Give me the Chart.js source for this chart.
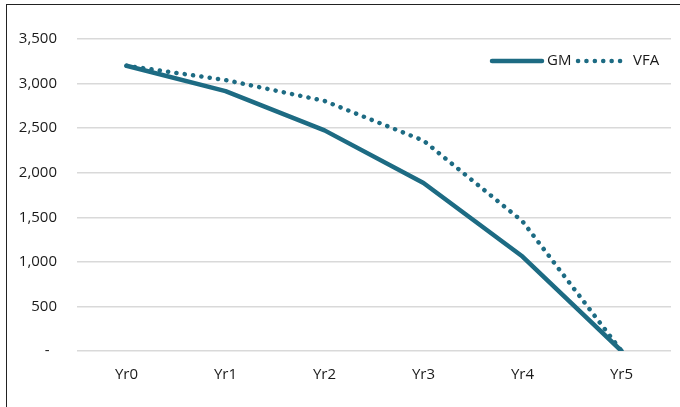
<!DOCTYPE html>
<html lang="en">
<head>
    <meta charset="UTF-8">
    <title>GM vs VFA</title>
    <script src="https://cdn.jsdelivr.net/npm/chart.js@4/dist/chart.umd.min.js"></script>
    <style>
        html, body { margin: 0; padding: 0; background: #fff; overflow: hidden; }
        #wrap { position: relative; width: 680px; height: 407px; }
        #frame { position: absolute; left: 6px; top: 4px; width: 700px; height: 430px;
                 border: 1.5px solid #222; pointer-events: none; }
    </style>
</head>
<body>
<div id="wrap">
    <canvas id="myChart" width="680" height="407"></canvas>
    <div id="frame"></div>
</div>
<script>
    // data
    const years = ["Yr0", "Yr1", "Yr2", "Yr3", "Yr4", "Yr5"];
    const gmValues = [3200, 2915, 2475, 1885, 1060, 0];
    const vfaValues = [3200, 3040, 2805, 2360, 1455, 0];
    const seriesNames = ["GM", "VFA"];
    const yTicks = [0, 500, 1000, 1500, 2000, 2500, 3000, 3500];

    const teal = "#1d6b83";
    const font = "'Open Sans', 'Noto Sans', sans-serif";
    const textColor = "#1a1a1a";

    // legend drawn inside the plot, top right, with line samples
    const insideLegend = {
        id: "insideLegend",
        afterDraw(chart) {
            const ctx = chart.ctx;
            const y = 61;
            const spots = [ // [line start, line end, text x]
                [492, 542, 547],
                [578, 624, 633]
            ];
            ctx.save();
            ctx.font = "15px " + font;
            ctx.textBaseline = "middle";
            ctx.fillStyle = textColor;
            chart.data.datasets.forEach((ds, i) => {
                const s = spots[i];
                ctx.strokeStyle = ds.borderColor;
                ctx.lineWidth = ds.borderWidth;
                ctx.lineCap = "round";
                ctx.setLineDash(ds.borderDash || []);
                ctx.beginPath();
                ctx.moveTo(s[0], y);
                ctx.lineTo(s[1], y);
                ctx.stroke();
                ctx.setLineDash([]);
                ctx.fillText(ds.label, s[2], y);
            });
            ctx.restore();
        }
    };

    const myChart = new Chart(document.getElementById("myChart"), {
        type: "line",
        data: {
            labels: years,
            datasets: [
                {
                    label: seriesNames[0],
                    data: gmValues,
                    borderColor: teal,
                    borderWidth: 4.5,
                    borderCapStyle: "round",
                    borderJoinStyle: "round",
                    pointRadius: 0,
                    tension: 0
                },
                {
                    label: seriesNames[1],
                    data: vfaValues,
                    borderColor: teal,
                    borderWidth: 4.5,
                    borderDash: [0.1, 8.3],
                    borderCapStyle: "round",
                    pointRadius: 0,
                    tension: 0
                }
            ]
        },
        options: {
            responsive: false,
            animation: false,
            devicePixelRatio: 1,
            layout: { padding: { left: 0, top: 39, right: 9, bottom: 0 } },
            plugins: {
                legend: { display: false },
                tooltip: { enabled: false }
            },
            scales: {
                x: {
                    offset: true,
                    grid: { display: false, drawTicks: false },
                    border: { display: false },
                    ticks: { color: textColor, padding: 15, font: { family: font, size: 15 } },
                    afterFit(scale) { scale.height = 56; }
                },
                y: {
                    min: 0,
                    max: 3500,
                    afterBuildTicks(scale) { scale.ticks = yTicks.map(v => ({ value: v })); },
                    grid: { color: "#d9d9d9", lineWidth: 1.5, drawTicks: false },
                    border: { display: false },
                    ticks: {
                        color: textColor,
                        padding: 20,
                        font: { family: font, size: 15 },
                        callback: v => v === 0 ? "-\u2002" : v.toLocaleString("en-US")
                    },
                    afterFit(scale) { scale.width = 77; }
                }
            }
        },
        plugins: [insideLegend]
    });
</script>
</body>
</html>
